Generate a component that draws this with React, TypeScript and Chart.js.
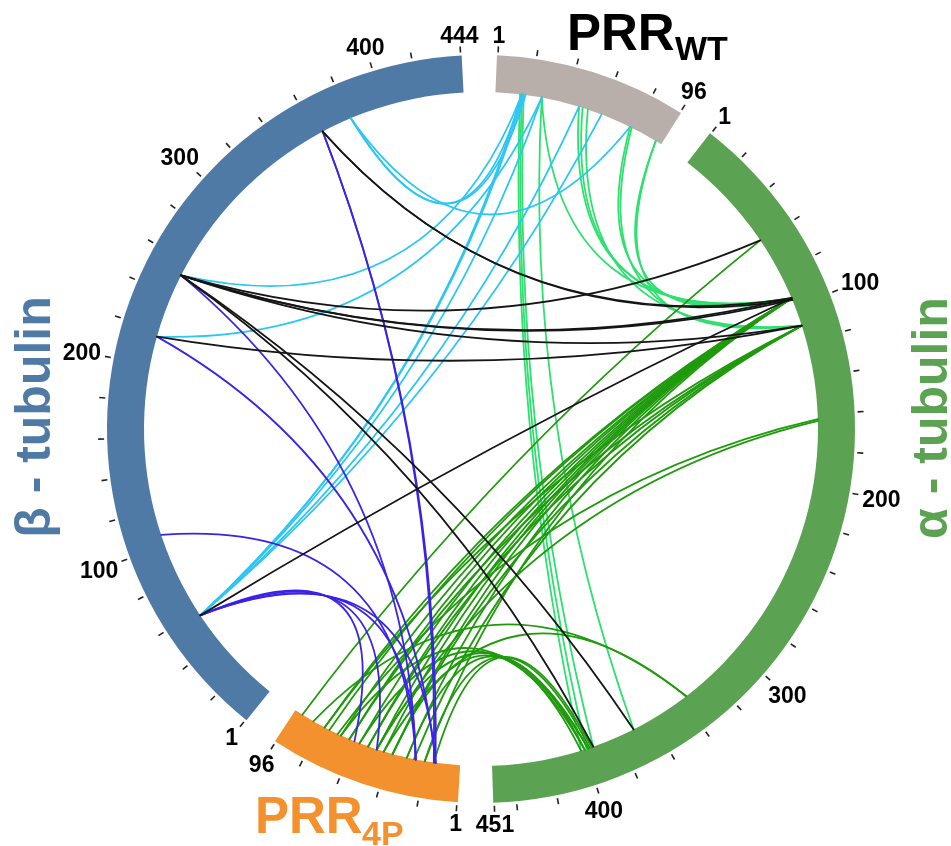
import React, { useEffect, useRef } from "react";
import { Chart, registerables } from "chart.js";

Chart.register(...registerables);

// ---- segments (clockwise from top) ----
const segmentNames = ["PRR WT", "α - tubulin", "PRR 4P", "β - tubulin"];
const segmentLengths = [96, 451, 96, 444];
const segmentColors = ["#B9AFAA", "#5BA352", "#F2912E", "#4F7AA6"];

const SEG_WT = 0;
const SEG_ALPHA = 1;
const SEG_4P = 2;
const SEG_BETA = 3;

// ---- axis ticks ----
const TICK_STEP = 20;
const LABEL_STEP = 100;

// ---- links (residue pairs) ----
// [PRR_WT residue, β-tubulin residue]
const wtBetaLinks: [number, number][] = [
  [15, 381], [17, 381], [77, 381],
  [15, 252], [26, 216],
  [15, 57], [16, 57], [26, 57], [47, 57], [60, 57],
];
// [PRR_WT residue, α-tubulin residue]
const wtAlphaLinks: [number, number][] = [
  [14, 402], [15, 399], [16, 395], [26, 371],
  [26, 95], [47, 95], [49, 95], [52, 111],
  [77, 95], [78, 111], [93, 95], [93, 111],
];
// [PRR_4P residue, β-tubulin residue]
const p4BetaLinks: [number, number][] = [
  [60, 57], [47, 57], [25, 57], [14, 57],
  [25, 106], [14, 364], [15, 364], [14, 216], [25, 252],
];
// [α-tubulin residue, β-tubulin residue]
const alphaBetaLinks: [number, number][] = [
  [95, 364], [96, 364], [59, 252], [95, 252], [96, 252],
  [111, 252], [111, 216], [395, 252], [371, 252], [95, 57],
];
// [PRR_4P residue, α-tubulin residue]
const p4AlphaLinks: [number, number][] = [
  [92, 59],
  [78, 95], [75, 95], [68, 95], [63, 95], [57, 95], [52, 95],
  [47, 95], [43, 95], [38, 95], [30, 95], [20, 95],
  [78, 111], [63, 111], [52, 111], [38, 111], [26, 111],
  [70, 163], [47, 164],
  [85, 337], [43, 337],
  [68, 398], [57, 400], [47, 398], [38, 402], [30, 400], [20, 397], [15, 396],
];

const linkGroups = [
  { from: SEG_WT, to: SEG_ALPHA, pairs: wtAlphaLinks, color: "#2FE070" },
  { from: SEG_WT, to: SEG_BETA, pairs: wtBetaLinks, color: "#2CC6F4" },
  { from: SEG_4P, to: SEG_ALPHA, pairs: p4AlphaLinks, color: "#1F9A0C" },
  { from: SEG_4P, to: SEG_BETA, pairs: p4BetaLinks, color: "#3A22E8" },
  { from: SEG_ALPHA, to: SEG_BETA, pairs: alphaBetaLinks, color: "#151515" },
];

// ---- layout constants ----
const GAP_UNITS = 17.4;
const ROTATION_DEG = 2.45;
const BEZIER_K = 0.4;
const FONT = "'Liberation Sans', Arial, sans-serif";
const TICK_FONT_PX = 23;

function tickList(L: number): number[] {
  const t = [1];
  for (let p = TICK_STEP; p < L; p += TICK_STEP) if (L - p >= 8) t.push(p);
  t.push(L);
  return t;
}

const circosPlugin = {
  id: "circos",
  afterDatasetsDraw(chart: any) {
    const ctx = chart.ctx as CanvasRenderingContext2D;
    const arcs = chart.getDatasetMeta(0).data as any[];
    if (!arcs || !arcs.length) return;
    const cx = arcs[0].x;
    const cy = arcs[0].y;
    const rOut = arcs[0].outerRadius;
    const rIn = arcs[0].innerRadius;
    const angleAt = (seg: number, pos: number) => {
      const a = arcs[seg * 2];
      const L = segmentLengths[seg];
      return a.startAngle + ((pos - 0.5) / L) * (a.endAngle - a.startAngle);
    };
    const pt = (ang: number, r: number) => [cx + r * Math.cos(ang), cy + r * Math.sin(ang)];

    // links
    ctx.save();
    ctx.lineWidth = 1.8;
    ctx.lineCap = "round";
    linkGroups.forEach((g) => {
      ctx.strokeStyle = g.color;
      g.pairs.forEach(([pa, pb]) => {
        const [x0, y0] = pt(angleAt(g.from, pa), rIn);
        const [x2, y2] = pt(angleAt(g.to, pb), rIn);
        const mx = (x0 + x2) / 2;
        const my = (y0 + y2) / 2;
        const qx = cx + BEZIER_K * (mx - cx);
        const qy = cy + BEZIER_K * (my - cy);
        ctx.beginPath();
        ctx.moveTo(x0, y0);
        ctx.quadraticCurveTo(qx, qy, x2, y2);
        ctx.stroke();
      });
    });
    ctx.restore();

    // ticks and labels
    ctx.save();
    ctx.strokeStyle = "#222";
    ctx.fillStyle = "#000";
    ctx.lineWidth = 1.6;
    ctx.font = `bold ${TICK_FONT_PX}px ${FONT}`;
    ctx.textAlign = "center";
    ctx.textBaseline = "alphabetic";
    const capH = TICK_FONT_PX * 0.716;
    segmentLengths.forEach((L, seg) => {
      tickList(L).forEach((p) => {
        const a = angleAt(seg, p);
        const [x1, y1] = pt(a, rOut + 3);
        const [x2, y2] = pt(a, rOut + 9);
        ctx.beginPath();
        ctx.moveTo(x1, y1);
        ctx.lineTo(x2, y2);
        ctx.stroke();
        if (p === 1 || p === L || p % LABEL_STEP === 0) {
          const txt = String(p);
          const w = ctx.measureText(txt).width;
          const ux = Math.cos(a);
          const uy = Math.sin(a);
          const r = rOut + 12 + Math.abs(ux) * w / 2 + Math.abs(uy) * capH / 2;
          ctx.fillText(txt, cx + r * ux, cy + r * uy + capH / 2);
        }
      });
    });
    ctx.restore();
  },
  afterDraw(chart: any) {
    const ctx = chart.ctx as CanvasRenderingContext2D;
    ctx.save();
    ctx.textBaseline = "alphabetic";
    ctx.textAlign = "left";
    // PRR WT
    ctx.fillStyle = "#000";
    ctx.font = `bold 51px ${FONT}`;
    ctx.fillText("PRR", 567, 50);
    ctx.font = `bold 34px ${FONT}`;
    ctx.fillText("WT", 675, 60);
    // PRR 4P
    ctx.fillStyle = segmentColors[SEG_4P];
    ctx.font = `bold 51px ${FONT}`;
    ctx.fillText("PRR", 255, 833);
    ctx.font = `bold 34px ${FONT}`;
    ctx.fillText("4P", 362, 845);
    // tubulins (rotated)
    ctx.textAlign = "center";
    ctx.font = `bold 50px ${FONT}`;
    ctx.save();
    ctx.translate(50, 417);
    ctx.rotate(-Math.PI / 2);
    ctx.fillStyle = segmentColors[SEG_BETA];
    ctx.fillText(segmentNames[SEG_BETA], 0, 0);
    ctx.restore();
    ctx.save();
    ctx.translate(947, 418);
    ctx.rotate(-Math.PI / 2);
    ctx.fillStyle = segmentColors[SEG_ALPHA];
    ctx.fillText(segmentNames[SEG_ALPHA], 0, 0);
    ctx.restore();
    ctx.restore();
  },
};

export default function App() {
  const ref = useRef<HTMLCanvasElement>(null);
  useEffect(() => {
    const canvas = ref.current;
    if (!canvas) return;
    const data: number[] = [];
    const colors: string[] = [];
    const labels: string[] = [];
    segmentLengths.forEach((L, i) => {
      data.push(L, GAP_UNITS);
      colors.push(segmentColors[i], "rgba(0,0,0,0)");
      labels.push(segmentNames[i], "");
    });
    const chart = new Chart(canvas, {
      type: "doughnut",
      data: {
        labels,
        datasets: [
          {
            data,
            backgroundColor: colors,
            borderWidth: 0,
            hoverBorderWidth: 0,
            hoverOffset: 0,
            offset: 0,
          } as any,
        ],
      },
      options: {
        responsive: false,
        animation: false,
        events: [],
        cutout: `${(337 / 374) * 100}%`,
        rotation: ROTATION_DEG,
        layout: { padding: { left: 107, right: 96, top: 55, bottom: 43 } },
        plugins: { legend: { display: false }, tooltip: { enabled: false } },
      } as any,
      plugins: [circosPlugin as any],
    });
    return () => chart.destroy();
  }, []);
  return (
    <div style={{ position: "absolute", left: 0, top: 0, width: 951, height: 846, background: "#fff" }}>
      <canvas ref={ref} width={951} height={846} style={{ display: "block", width: 951, height: 846 }} />
    </div>
  );
}
